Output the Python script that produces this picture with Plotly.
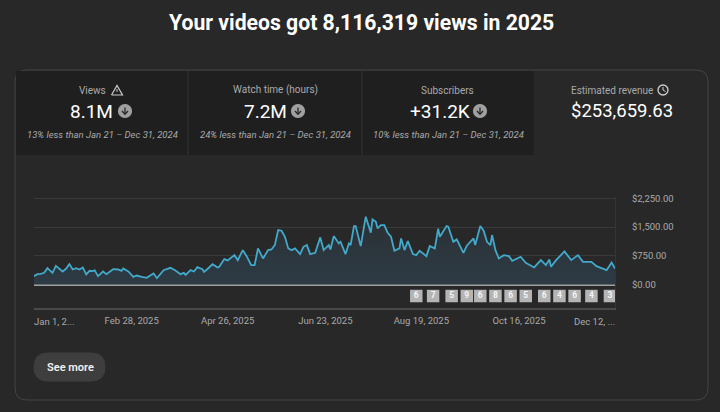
import pandas as pd
import plotly.graph_objects as go

FONT = "Roboto"
BG = "#282828"
TILE = "#1f1f1f"
LINE = "#42a9cb"
MUTED = "#aaaaaa"

day_offset = [0, 2, 4, 6, 8, 10, 11, 13, 15, 17, 19, 21, 23, 25, 27, 29, 31, 33, 35, 36, 38, 41, 43, 45, 47, 50, 52, 53, 56,
              59, 61, 64, 67, 69, 71, 73, 75, 77, 81, 84, 87, 89, 90, 93, 95, 97, 100, 101, 104, 106, 109, 110, 113, 115,
              119, 121, 124, 126, 129, 131, 133, 136, 139, 141, 143, 145, 147, 149, 151, 153, 155, 158, 160, 162, 164, 167,
              170, 172, 175, 176, 178, 181, 182, 185, 187, 188, 190, 191, 194, 196, 197, 200, 201, 203, 204, 206, 208, 210,
              212, 214, 217, 218, 220, 222, 225, 227, 229, 233, 235, 238, 240, 241, 243, 245, 246, 249, 251, 255, 257, 261,
              262, 265, 267, 269, 271, 272, 274, 276, 279, 282, 284, 289, 292, 297, 301, 304, 306, 307, 310, 315, 319, 323,
              326, 331, 334, 340, 343, 345]
revenue = [218, 270, 279, 305, 427, 358, 305, 488, 410, 340, 410, 532, 392, 427, 392, 445, 262, 358, 349, 375, 218, 340, 270, 331, 401, 392, 358, 419, 340,
           200, 235, 200, 174, 235, 288, 166, 270, 375, 436, 366, 270, 305, 253, 375, 340, 453, 401, 331, 445, 532, 445, 462, 663, 628,
           767, 637, 898, 759, 506, 506, 942, 680, 898, 916, 1029, 1421, 1404, 1247, 942, 898, 942, 794, 985, 1029, 794, 828,
           1230, 898, 1029, 916, 1264, 1073, 1116, 794, 1073, 1029, 1526, 1526, 1003, 1465, 1770, 1352, 1700, 1639, 1465, 1552, 1552, 1352,
           1247, 881, 942, 1203, 898, 1134, 794, 767, 881, 741, 1003, 942, 1456, 1247, 1378, 1526, 1509, 1116, 1177, 828, 1012, 1203,
           1029, 1526, 1404, 1116, 1029, 1291, 898, 680, 767, 741, 619, 724, 567, 445, 637, 506, 654, 462, 637, 863, 637, 767,
           593, 593, 480, 375, 576, 419]

badge_offset = [227, 237, 248, 257, 265, 274, 283, 292, 303, 312, 321, 331, 342]
badge_count = [6, 7, 5, 9, 6, 8, 6, 5, 6, 4, 6, 4, 3]

tick_dates = ["2025-02-28", "2025-04-26", "2025-06-23", "2025-08-19", "2025-10-16"]
tick_labels = ["Feb 28, 2025", "Apr 26, 2025", "Jun 23, 2025", "Aug 19, 2025", "Oct 16, 2025"]
y_ticks = [0, 750, 1500, 2250]
y_labels = ["$0.00", "$750.00", "$1,500.00", "$2,250.00"]

start = pd.Timestamp("2025-01-01")
dates = start + pd.to_timedelta(day_offset, unit="D")
badge_dates = start + pd.to_timedelta(badge_offset, unit="D")
badge_level = [-300] * len(badge_count)


def px(x):
    return x / 720


def py(y):
    return 1 - y / 412


def box(x0, y0, x1, y1, color):
    return dict(type="rect", xref="paper", yref="paper", x0=px(x0), x1=px(x1), y0=py(y0), y1=py(y1),
                fillcolor=color, line_width=0, layer="below")


def rounded(x0, y0, x1, y1, r, fill, line):
    p = (f"M {px(x0 + r)} {py(y0)} L {px(x1 - r)} {py(y0)} Q {px(x1)} {py(y0)} {px(x1)} {py(y0 + r)} "
         f"L {px(x1)} {py(y1 - r)} Q {px(x1)} {py(y1)} {px(x1 - r)} {py(y1)} "
         f"L {px(x0 + r)} {py(y1)} Q {px(x0)} {py(y1)} {px(x0)} {py(y1 - r)} "
         f"L {px(x0)} {py(y0 + r)} Q {px(x0)} {py(y0)} {px(x0 + r)} {py(y0)} Z")
    return dict(type="path", xref="paper", yref="paper", path=p, fillcolor=fill,
                line=dict(color=line, width=1), layer="below")


def seg(points, color, width=1.2, fill=None):
    p = "M " + " L ".join(f"{px(x)} {py(y)}" for x, y in points)
    if fill:
        p += " Z"
    return dict(type="path", xref="paper", yref="paper", path=p, fillcolor=fill,
                line=dict(color=color, width=width))


def circle(cx, cy, r, fill, line=None, width=1.2):
    return dict(type="circle", xref="paper", yref="paper", x0=px(cx - r), x1=px(cx + r), y0=py(cy + r), y1=py(cy - r),
                fillcolor=fill, line=dict(color=line or fill, width=width))


def down_icon(cx, cy):
    return [circle(cx, cy, 6.5, "#a0a0a0"),
            seg([(cx, cy - 3.5), (cx, cy + 3)], BG, 1.3),
            seg([(cx - 3, cy), (cx, cy + 3.2), (cx + 3, cy)], BG, 1.3)]


def label(x, y, text, size, color=MUTED, anchor="center", weight=None, style=None):
    font = dict(family=FONT, size=size, color=color)
    if weight:
        font["weight"] = weight
    if style:
        font["style"] = style
    return dict(x=px(x), y=py(y), xref="paper", yref="paper", text=text, showarrow=False,
                xanchor=anchor, yanchor="middle", font=font)


fig = go.Figure()
fig.add_trace(go.Scatter(x=dates, y=revenue, mode="lines", line=dict(color=LINE, width=1.8),
                         fill="tozeroy", fillgradient=dict(type="vertical", start=1800, stop=0,
                                                           colorscale=[[0, "#2b3034"], [1, "#2d3b45"]]),
                         hoverinfo="skip"))
fig.add_trace(go.Scatter(x=badge_dates, y=badge_level, mode="markers+text", text=badge_count,
                         marker=dict(symbol="square", size=12.5, color="#b4b4b4"),
                         textposition="middle center", textfont=dict(family=FONT, size=8.5, color="#f5f5f5", weight=700),
                         hoverinfo="skip"))

shapes = [
    rounded(15, 70, 708, 400, 12, BG, "#444444"),
    box(16, 71, 187, 155, TILE),
    box(189, 71, 361, 155, TILE),
    box(363, 71, 534, 155, TILE),
    rounded(34, 353, 105, 381, 14, "#3e3e3e", "#3e3e3e"),
    seg([(111.5, 95), (117, 85.5), (122.5, 95), (111.5, 95)], "#cccccc", 1.2),
    seg([(117, 89), (117, 92)], "#cccccc", 1),
    circle(663, 90, 5, "rgba(0,0,0,0)", "#cfcfcf", 1.3),
    seg([(663, 87), (663, 90), (665.5, 91.5)], "#cfcfcf", 1),
]
shapes += down_icon(125, 111) + down_icon(298, 111) + down_icon(480, 111)

annotations = [
    label(361.5, 23, "Your videos got 8,116,319 views in 2025", 21.2, "#ffffff", weight=700),
    label(92, 90, "Views", 10),
    label(275, 90, "Watch time (hours)", 10),
    label(447, 90, "Subscribers", 10),
    label(612, 90, "Estimated revenue", 10),
    label(91, 111, "8.1M", 19, "#ffffff"),
    label(265, 111, "7.2M", 19, "#ffffff"),
    label(440, 111, "+31.2K", 19, "#ffffff"),
    label(621.5, 111, "$253,659.63", 18.5, "#ffffff"),
    label(102, 134, "13% less than Jan 21 – Dec 31, 2024", 9.5, style="italic"),
    label(275, 134, "24% less than Jan 21 – Dec 31, 2024", 9.5, style="italic"),
    label(448, 134, "10% less than Jan 21 – Dec 31, 2024", 9.5, style="italic"),
    label(32, 321, "Jan 1, 2...", 9.5, anchor="left"),
    label(617, 321, "Dec 12, ...", 9.5, anchor="right"),
    label(70, 367, "See more", 11, "#f1f1f1", weight=600),
]

fig.update_layout(
    width=720, height=412, margin=dict(l=0, r=0, t=0, b=0),
    paper_bgcolor=BG, plot_bgcolor="rgba(0,0,0,0)", showlegend=False,
    shapes=shapes, annotations=annotations,
    xaxis=dict(domain=[px(34), px(615)], range=["2025-01-01", "2025-12-12"], automargin=False, tickmode="array",
               tickvals=tick_dates, ticktext=tick_labels, showgrid=False, zeroline=False,
               showline=True, linecolor="#4a4a4a", linewidth=2, ticks="outside", ticklen=3,
               tickcolor="rgba(0,0,0,0)", tickfont=dict(family=FONT, size=9.5, color=MUTED)),
    yaxis=dict(domain=[py(308), py(196.8)], range=[-613, 2290], automargin=False, side="right", tickmode="array",
               tickvals=y_ticks, ticktext=y_labels, gridcolor="#3a3a3a", gridwidth=1,
               zeroline=True, zerolinecolor="#a0a0a0", zerolinewidth=2,
               showline=True, linecolor="#343434", ticks="outside", ticklen=14, tickcolor="rgba(0,0,0,0)",
               tickfont=dict(family=FONT, size=9.5, color=MUTED)),
)

fig.write_html("out.html", config=dict(displayModeBar=False),
               post_script="document.body.style.margin='0';document.body.style.background='#282828';")
